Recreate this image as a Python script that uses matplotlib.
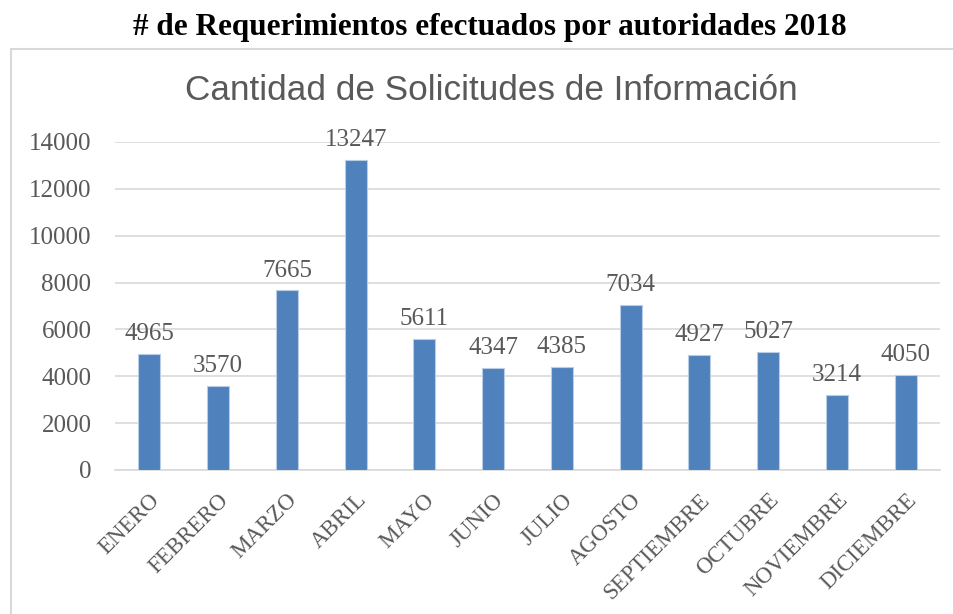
import matplotlib.pyplot as plt
from matplotlib.patches import Rectangle

meses = ['ENERO', 'FEBRERO', 'MARZO', 'ABRIL', 'MAYO', 'JUNIO', 'JULIO',
         'AGOSTO', 'SEPTIEMBRE', 'OCTUBRE', 'NOVIEMBRE', 'DICIEMBRE']
solicitudes = [4965, 3570, 7665, 13247, 5611, 4347, 4385, 7034, 4927, 5027, 3214, 4050]
yticks = [0, 2000, 4000, 6000, 8000, 10000, 12000, 14000]

gris = '#595959'
serif = ['Liberation Serif', 'DejaVu Serif']

fig = plt.figure(figsize=(9.54, 6.14), dpi=100)
W, H = 954, 614

# marco del grafico
fig.patches.append(Rectangle((11 / W, -0.01), 1.0, 1 - 49 / H + 0.01,
                             transform=fig.transFigure, fill=False,
                             edgecolor='#D9D9D9', linewidth=1.5))

fig.text(490 / W, 1 - 28 / H, '# de Requerimientos efectuados por autoridades 2018',
         ha='center', va='center', fontsize=22.5, fontweight='bold',
         family=serif, color='black')
fig.text(491 / W, 1 - 90 / H, 'Cantidad de Solicitudes de Información',
         ha='center', va='center', fontsize=25.3, color=gris,
         family=['Liberation Sans Narrow', 'Liberation Sans', 'DejaVu Sans'])

ax = fig.add_axes([115 / W, 1 - 470 / H, 825 / W, 328 / H])
x = range(len(meses))
bars = ax.bar(x, solicitudes, width=0.32, color='#4F81BD',
              edgecolor='#B9CDE5', linewidth=0.8, zorder=3)

for xi, v in zip(x, solicitudes):
    ax.text(xi, v + 380, str(v), ha='center', va='bottom', fontsize=18,
            color=gris, family=serif)

ax.set_xlim(-0.5, len(meses) - 0.5)
ax.set_ylim(0, 14000)
ax.set_yticks(yticks)
ax.set_yticklabels([str(t) for t in yticks], fontsize=18, color=gris, family=serif)
ax.set_xticks(list(x))
ax.set_xticklabels(meses, rotation=45, ha='right', rotation_mode='anchor',
                   fontsize=16.5, color=gris, family=serif)
ax.tick_params(length=0)
ax.tick_params(axis='y', pad=17)
ax.tick_params(axis='x', pad=14)

ax.grid(axis='y', color='#D9D9D9', linewidth=1.2, zorder=0)
for s in ['top', 'right', 'left']:
    ax.spines[s].set_visible(False)
ax.spines['bottom'].set_color('#D9D9D9')
ax.spines['bottom'].set_linewidth(1.2)

fig.savefig('out.png', dpi=100)
